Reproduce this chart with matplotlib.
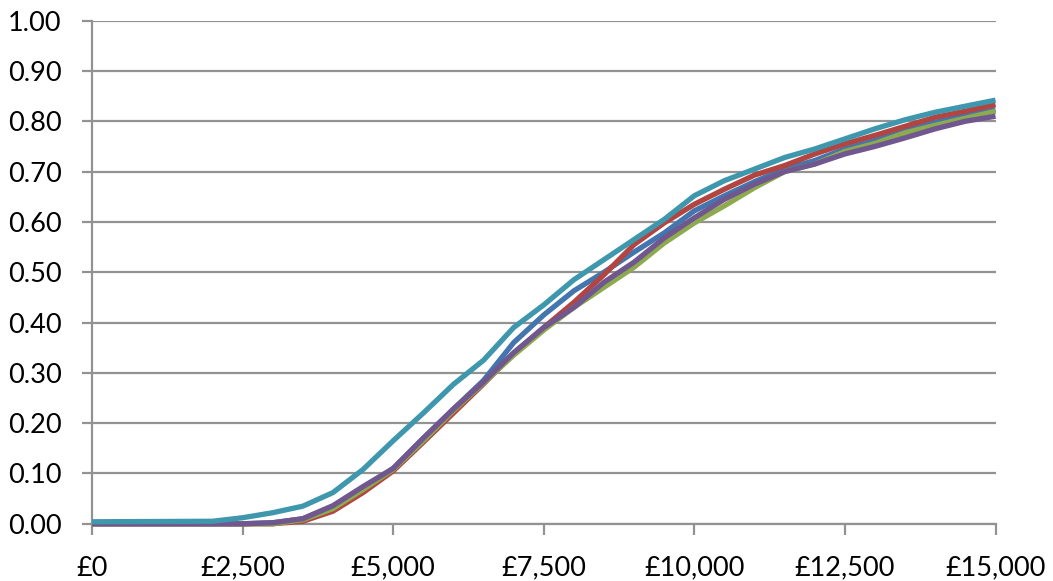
import matplotlib
matplotlib.use("Agg")
from matplotlib import pyplot
from matplotlib.ticker import FuncFormatter

# cost (GBP) at which each curve was read
cost = [0, 2000, 2500, 3000, 3500, 4000, 4500, 5000, 5500, 6000, 6500, 7000,
        7500, 8000, 8500, 9000, 9500, 10000, 10500, 11000, 11500, 12000,
        12500, 13000, 13500, 14000, 14500, 15000]

blue = [0.0, 0.0, 0.0, 0.002, 0.010, 0.035, 0.070, 0.110, 0.170, 0.228,
        0.285, 0.360, 0.415, 0.463, 0.500, 0.540, 0.578, 0.622, 0.652,
        0.680, 0.705, 0.722, 0.745, 0.762, 0.782, 0.798, 0.812, 0.823]
red = [0.0, 0.0, 0.0, 0.0, 0.005, 0.025, 0.062, 0.105, 0.162, 0.220,
       0.278, 0.338, 0.390, 0.440, 0.495, 0.555, 0.598, 0.635, 0.665,
       0.693, 0.712, 0.735, 0.755, 0.772, 0.790, 0.808, 0.820, 0.833]
green = [0.0, 0.0, 0.0, 0.0, 0.008, 0.030, 0.068, 0.108, 0.165, 0.225,
         0.280, 0.335, 0.385, 0.430, 0.470, 0.510, 0.558, 0.598, 0.632,
         0.668, 0.700, 0.715, 0.740, 0.756, 0.777, 0.792, 0.806, 0.820]
purple = [0.0, 0.0, 0.0, 0.002, 0.010, 0.036, 0.074, 0.110, 0.170, 0.228,
          0.282, 0.340, 0.390, 0.430, 0.480, 0.520, 0.568, 0.608, 0.645,
          0.675, 0.700, 0.715, 0.735, 0.750, 0.767, 0.785, 0.800, 0.810]
teal = [0.004, 0.005, 0.012, 0.022, 0.035, 0.062, 0.108, 0.165, 0.220,
        0.277, 0.325, 0.390, 0.435, 0.485, 0.525, 0.565, 0.605, 0.652,
        0.682, 0.705, 0.728, 0.745, 0.765, 0.785, 0.803, 0.818, 0.830, 0.842]

series = [
    (blue, "#4375AE"),
    (red, "#B24541"),
    (green, "#8DAA4E"),
    (purple, "#70578F"),
    (teal, "#3F97AE"),
]

pyplot.rcParams["font.family"] = ["Lato", "DejaVu Sans"]

fig = pyplot.figure(figsize=(10.53, 5.81), dpi=100)
ax = fig.add_axes([0.0874, 0.0985, 0.858, 0.866])

grid_col = "#929292"
for (values, colour) in series:
    ax.plot(cost, values, color=colour, linewidth=3.8, solid_capstyle="butt",
            solid_joinstyle="round", clip_on=False, zorder=3)

ax.set_xlim(0, 15000)
ax.set_ylim(0, 1.0)
ax.set_xticks(range(0, 15001, 2500))
ax.set_yticks([i / 10 for i in range(11)])
ax.xaxis.set_major_formatter(FuncFormatter(lambda v, _: "£{:,}".format(int(v))))
ax.yaxis.set_major_formatter(FuncFormatter(lambda v, _: "%.2f" % v))

ax.grid(axis="y", color=grid_col, linewidth=1.6, zorder=1)
for side in ("top", "right"):
    ax.spines[side].set_visible(False)
for side in ("left", "bottom"):
    ax.spines[side].set_color(grid_col)
    ax.spines[side].set_linewidth(1.6)
ax.tick_params(axis="y", direction="out", length=7, width=1.6, color=grid_col,
               pad=15, labelsize=19.5)
ax.tick_params(axis="x", direction="out", length=8, width=1.6, color=grid_col,
               pad=15, labelsize=19.5)

fig.savefig("out.png", dpi=100)
